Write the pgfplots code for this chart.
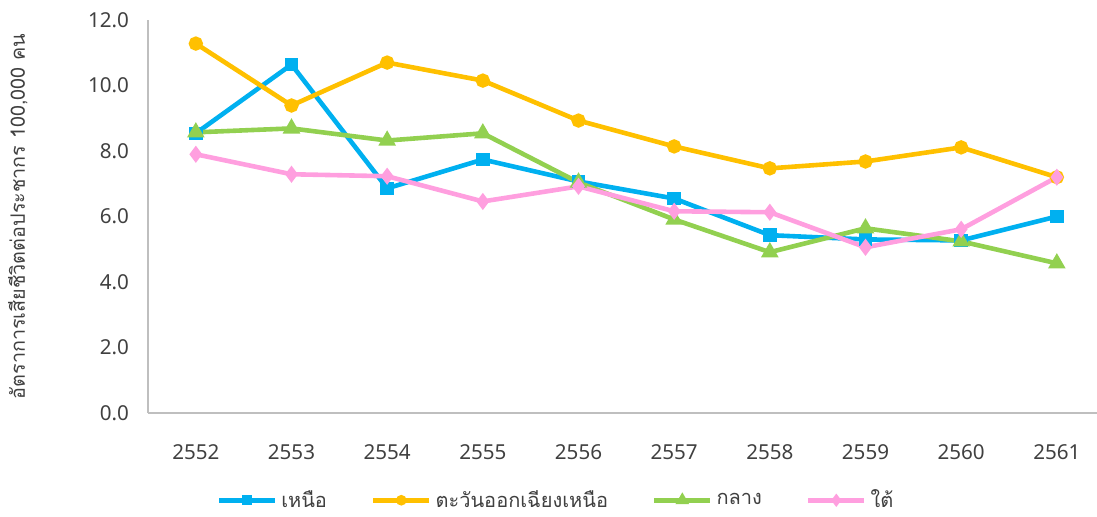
\documentclass[border=0pt]{standalone}
\usepackage{fontspec}
\setmainfont{Noto Sans}
\newfontfamily\thaifont[Script=Thai]{Loma}
\usepackage{pgfplots}
\pgfplotsset{compat=1.18}
\definecolor{cN}{HTML}{00B0F0}
\definecolor{cNE}{HTML}{FFC000}
\definecolor{cC}{HTML}{92D050}
\definecolor{cS}{HTML}{FF9FDF}
\definecolor{txt}{HTML}{404040}
\definecolor{axl}{HTML}{BFBFBF}
\begin{document}
\begin{tikzpicture}
\begin{axis}[
  at={(0,0)}, anchor=south west,
  scale only axis, width=474.5pt, height=196.5pt,
  xmin=-0.5, xmax=9.42, ymin=0, ymax=12,
  xtick={0,...,9},
  xticklabels={2552,2553,2554,2555,2556,2557,2558,2559,2560,2561},
  ytick={0,2,...,12},
  /pgf/number format/fixed,
  /pgf/number format/fixed zerofill,
  /pgf/number format/precision=1,
  /pgf/number format/assume math mode=true,
  axis x line*=bottom, axis y line*=left,
  axis line style={axl, line width=0.8pt, -},
  major tick length=0pt,
  tick label style={font=\fontsize{10.3}{12}\selectfont, text=txt},
  xticklabel style={yshift=-12pt, text height=7.5pt, text depth=0pt},
  yticklabel style={xshift=-6pt},
  ylabel={\thaifont อัตราการเสียชีวิตต่อประชากร 100,000 คน},
  ylabel style={font=\fontsize{9.9}{11}\selectfont, text=txt, at={(rel axis cs:0,0.5)}, anchor=center, yshift=65pt},
  legend columns=4,
  legend style={at={(rel axis cs:0.431,-0.222)}, anchor=center, draw=none, font=\fontsize{10}{11}\selectfont\thaifont, text=txt,
    /tikz/every even column/.append style={column sep=20pt}},
  legend image code/.code={\draw[#1, mark repeat=2, mark phase=2, mark options={scale=0.6}] plot coordinates {(0pt,0pt) (14pt,0pt) (28pt,0pt)};},
  every axis plot/.append style={line width=2.3pt, mark options={solid}},
]
\addplot[cN, mark=square*, mark size=2.2pt] coordinates {(0,8.54) (1,10.64) (2,6.86) (3,7.74) (4,7.07) (5,6.55) (6,5.43) (7,5.30) (8,5.27) (9,6.00)};
\addlegendentry{เหนือ}
\addplot[cNE, mark=*, mark size=2.4pt] coordinates {(0,11.28) (1,9.39) (2,10.70) (3,10.15) (4,8.93) (5,8.14) (6,7.47) (7,7.68) (8,8.11) (9,7.20)};
\addlegendentry{ตะวันออกเฉียงเหนือ}
\addplot[cC, mark=triangle*, mark size=2.8pt] coordinates {(0,8.57) (1,8.69) (2,8.32) (3,8.54) (4,7.04) (5,5.91) (6,4.91) (7,5.64) (8,5.24) (9,4.57)};
\addlegendentry{กลาง}
\addplot[cS, mark=diamond*, mark size=2.4pt] coordinates {(0,7.90) (1,7.29) (2,7.23) (3,6.46) (4,6.92) (5,6.16) (6,6.13) (7,5.06) (8,5.61) (9,7.20)};
\addlegendentry{ใต้}
\end{axis}
\pgfresetboundingbox
\path (-74pt,-51.5pt) rectangle (474.5pt,206.5pt);
\end{tikzpicture}
\end{document}
